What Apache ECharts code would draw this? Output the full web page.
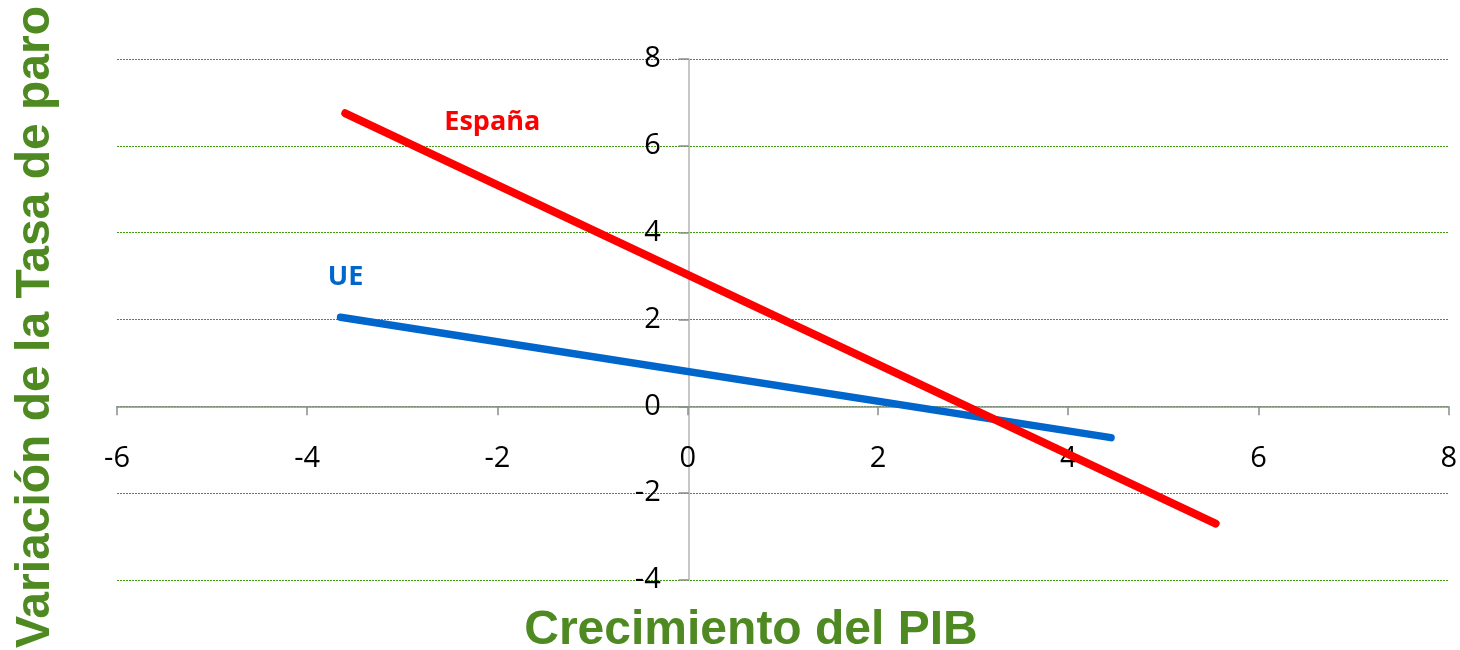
<!DOCTYPE html>
<html>
<head>
<meta charset="utf-8">
<script src="https://cdn.jsdelivr.net/npm/echarts@6/dist/echarts.min.js"></script>
<style>
  html, body { margin: 0; padding: 0; background: #fff; }
  #chart { width: 1460px; height: 650px; }
</style>
</head>
<body>
<div id="chart"></div>
<script>
// rectas de regresión: crecimiento del PIB (x) vs variación de la tasa de paro (y)
const spainX = [-3.6, 5.55]
const spainY = [6.75, -2.7]
const ueX = [-3.65, 4.45]
const ueY = [2.05, -0.72]

const xTicks = { min: -6, max: 8, interval: 2 }
const yTicks = { min: -4, max: 8, interval: 2 }

const green = '#4e8a21'
const tickFont = '"Open Sans", "Noto Sans", sans-serif'

// plot area in px
const gridBox = { left: 117, right: 9, top: 59, bottom: 70 }
const plotW = 1460 - gridBox.left - gridBox.right
const plotH = 650 - gridBox.top - gridBox.bottom
// the axes cross at zero: shift each axis from the grid edge to the zero line
const xAxisShift = -plotH * (0 - yTicks.min) / (yTicks.max - yTicks.min)
const yAxisShift = -plotW * (0 - xTicks.min) / (xTicks.max - xTicks.min)

function toPoints(xs, ys, name, labelStyle) {
  return xs.map((x, i) => i === 0
    ? { value: [x, ys[i]], label: Object.assign({ show: true, formatter: name }, labelStyle) }
    : [x, ys[i]])
}

const chart = echarts.init(document.getElementById('chart'))

chart.setOption({
  animation: false,
  grid: Object.assign({ containLabel: false }, gridBox),
  xAxis: {
    type: 'value', position: 'bottom', offset: xAxisShift,
    min: xTicks.min, max: xTicks.max, interval: xTicks.interval,
    axisLine: { onZero: false, lineStyle: { color: '#8c8c8c', width: 1.5 } },
    axisTick: { show: true, length: 9, lineStyle: { color: '#8c8c8c', width: 1.5 } },
    axisLabel: { color: '#000', fontSize: 29, fontFamily: tickFont, margin: 38 },
    splitLine: { show: false }
  },
  yAxis: {
    type: 'value', position: 'left', offset: yAxisShift,
    min: yTicks.min, max: yTicks.max, interval: yTicks.interval,
    axisLine: { show: true, onZero: false, lineStyle: { color: '#b4b4b4', width: 1.5 } },
    axisTick: { show: true, length: 10, lineStyle: { color: '#8c8c8c', width: 1.5 } },
    axisLabel: { color: '#000', fontSize: 29, fontFamily: tickFont, margin: 28 },
    splitLine: { show: true, lineStyle: { color: '#3f9a10', type: [2, 1], width: 1 } }
  },
  series: [
    {
      name: 'UE',
      type: 'line',
      data: toPoints(ueX, ueY, 'UE', {
        position: 'inside', offset: [5, -40],
        color: '#0066cc', fontSize: 27, fontWeight: 'bold', fontFamily: tickFont
      }),
      symbol: 'circle', symbolSize: 1, showSymbol: true,
      itemStyle: { color: '#0066cc' },
      lineStyle: { color: '#0066cc', width: 7.5, cap: 'round' },
      z: 3
    },
    {
      name: 'España',
      type: 'line',
      data: toPoints(spainX, spainY, 'España', {
        position: 'inside', offset: [147, 9],
        color: '#ff0000', fontSize: 27, fontWeight: 'bold', fontFamily: tickFont
      }),
      symbol: 'circle', symbolSize: 1, showSymbol: true,
      itemStyle: { color: '#ff0000' },
      lineStyle: { color: '#ff0000', width: 8, cap: 'round' },
      z: 4
    }
  ],
  graphic: [
    {
      type: 'text', x: 36, y: 327, rotation: Math.PI / 2,
      style: {
        text: 'Variación de la Tasa de paro',
        fontSize: 48, fontWeight: 'bold', fontFamily: '"Liberation Sans", Arial, sans-serif',
        fill: green, align: 'center', verticalAlign: 'middle'
      }
    },
    {
      type: 'text', x: 751, y: 631,
      style: {
        text: 'Crecimiento del PIB',
        fontSize: 48, fontWeight: 'bold', fontFamily: '"Liberation Sans", Arial, sans-serif',
        fill: green, align: 'center', verticalAlign: 'middle'
      }
    }
  ]
})
</script>
</body>
</html>
